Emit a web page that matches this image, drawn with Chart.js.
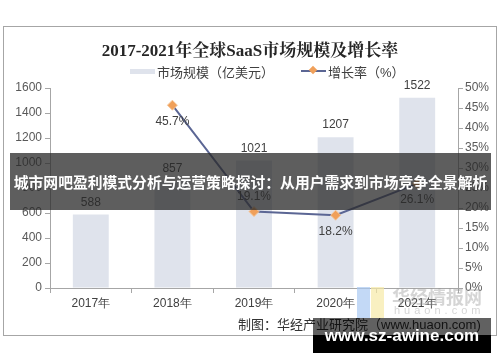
<!DOCTYPE html>
<html>
<head>
<meta charset="utf-8">
<script src="https://cdn.jsdelivr.net/npm/chart.js@4"></script>
<style>
  body { margin: 0; background: #fff; font-family: "Liberation Sans", "Noto Sans CJK SC", sans-serif; }
  #wrap { position: relative; width: 500px; height: 362px; overflow: hidden; }
  #frame { position: absolute; left: 3px; top: 26px; width: 492px; height: 308px; border: 1px solid #a6a6a6; }
  #chart { position: absolute; left: 0; top: 0; }
  .abs { position: absolute; white-space: nowrap; }
  #title { left: 0; width: 500px; top: 36px; text-align: center; font: bold 17px "Liberation Serif", "Noto Serif CJK SC", "Noto Sans CJK SC", serif; color: #262626; }
  .lg { top: 62px; font-size: 13px; color: #404040; font-family: "Liberation Sans", "Noto Sans CJK SC", sans-serif; }
  #banner { left: 10px; top: 153px; width: 481px; height: 57px; background: rgba(40,40,40,0.75); color: #fff; font: bold 14.8px "Noto Sans CJK SC", sans-serif; line-height: 57px; text-align: center; }
  #source { left: 238px; top: 314px; font-size: 13px; color: #333; font-family: "Liberation Sans", "Noto Sans CJK SC", sans-serif; }
  #site { left: 313px; top: 318px; width: 178px; height: 35px; background: linear-gradient(rgba(0,0,0,0.62) 0, rgba(0,0,0,0.62) 17px, #000 17px); color: #fff; font: bold 17px "Liberation Sans", sans-serif; text-align: center; line-height: 36px; }
</style>
</head>
<body>
<div id="wrap">
  <div id="frame"></div>
  <canvas id="chart" width="500" height="362"></canvas>
  <div id="title" class="abs">2017-2021年全球SaaS市场规模及增长率</div>
  <div class="abs" style="left:130px;top:69px;width:25px;height:5px;background:#dfe3ec;"></div>
  <div class="abs lg" style="left:157px;">市场规模（亿美元）</div>
  <div class="abs" style="left:301px;top:70px;width:25px;height:2px;background:#5b6694;"></div>
  <div class="abs" style="left:310px;top:67px;width:6px;height:6px;background:#f0a05a;transform:rotate(45deg);"></div>
  <div class="abs lg" style="left:328px;">增长率（%）</div>
  <!-- watermark -->
  <div class="abs" style="left:357px;top:287px;width:13px;height:31px;background:#a9c9f2;opacity:0.7;"></div>
  <div class="abs" style="left:371px;top:287px;width:13px;height:31px;background:#f7e9a6;opacity:0.7;"></div>
  <div class="abs" style="left:392px;top:283px;font:bold 18px 'Noto Sans CJK SC',sans-serif;color:rgba(150,150,150,0.4);">华经情报网</div>
  <div class="abs" style="left:394px;top:304px;font:11px 'Liberation Sans',sans-serif;letter-spacing:4px;color:rgba(150,150,150,0.4);">huaon.com</div>
  <div id="source" class="abs">制图：华经产业研究院（www.huaon.com)</div>
  <div id="banner" class="abs">城市网吧盈利模式分析与运营策略探讨：从用户需求到市场竞争全景解析</div>
  <div id="site" class="abs">www.sz-awine.com</div>
</div>
<script>
var years      = ['2017年', '2018年', '2019年', '2020年', '2021年'];
var marketSize = [588, 857, 1021, 1207, 1522];
var growthRate = [null, 45.7, 19.1, 18.2, 26.1];

// where each growth label sits relative to its point
var growthLabelSide = ['below', 'below', 'above', 'below', 'below'];

var axisColor = '#a6a6a6';
var tickFont  = { family: 'Liberation Sans', size: 12 };

// Simple value labels for bars and line points
var valueLabels = {
  id: 'valueLabels',
  afterDatasetsDraw: function(chart) {
    var ctx = chart.ctx;
    ctx.save();
    ctx.font = '12px "Liberation Sans", sans-serif';
    ctx.fillStyle = '#404040';
    ctx.textAlign = 'center';
    ctx.textBaseline = 'middle';
    // dataset 1 = bars, dataset 0 = line
    chart.getDatasetMeta(1).data.forEach(function(bar, i) {
      ctx.fillText(marketSize[i], bar.x, bar.y - 12);
    });
    chart.getDatasetMeta(0).data.forEach(function(pt, i) {
      if (growthRate[i] === null) return;
      var dy = growthLabelSide[i] === 'above' ? -15 : 16;
      ctx.fillText(growthRate[i].toFixed(1) + '%', pt.x, pt.y + dy);
    });
    ctx.restore();
  }
};

new Chart(document.getElementById('chart').getContext('2d'), {
  data: {
    labels: years,
    datasets: [{
      type: 'line',
      label: '增长率（%）',
      data: growthRate,
      yAxisID: 'y1',
      borderColor: '#5b6694',
      borderWidth: 2,
      pointStyle: 'rectRot',
      pointRadius: 5,
      pointBackgroundColor: '#f0a05a',
      pointBorderColor: '#f6c79a',
      pointBorderWidth: 1,
      tension: 0,
      order: 0
    }, {
      type: 'bar',
      label: '市场规模（亿美元）',
      data: marketSize,
      yAxisID: 'y',
      backgroundColor: '#dfe3ec',
      barPercentage: 0.44,
      categoryPercentage: 1,
      order: 1
    }]
  },
  options: {
    responsive: false,
    animation: false,
    layout: { padding: { left: 0, right: 0, top: 88, bottom: 0 } },
    plugins: { legend: { display: false }, tooltip: { enabled: false } },
    scales: {
      x: {
        offset: true,
        afterFit: function(s) { s.height = 74; },
        grid: { display: true, drawOnChartArea: false, offset: true, color: axisColor, tickLength: 5 },
        border: { color: axisColor },
        ticks: { color: '#404040', font: tickFont, padding: 3 }
      },
      y: {
        position: 'left',
        min: 0, max: 1600,
        afterFit: function(s) { s.width = 50; },
        grid: { display: true, drawOnChartArea: false, color: axisColor, tickLength: 5 },
        border: { color: axisColor },
        ticks: { stepSize: 200, color: '#595959', font: tickFont, padding: 3,
                 callback: function(v) { return String(v); } }
      },
      y1: {
        position: 'right',
        min: 0, max: 50,
        afterFit: function(s) { s.width = 42; },
        grid: { display: true, drawOnChartArea: false, color: axisColor, tickLength: 5 },
        border: { color: axisColor },
        ticks: { stepSize: 5, color: '#595959', font: tickFont, padding: 2,
                 callback: function(v) { return v + '%'; } }
      }
    }
  },
  plugins: [valueLabels]
});
</script>
</body>
</html>
